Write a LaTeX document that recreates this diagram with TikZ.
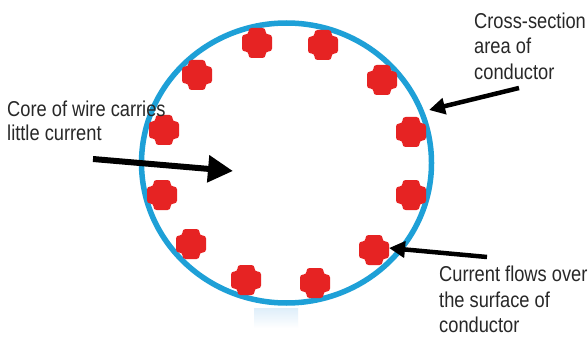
\documentclass[tikz,border=0pt]{standalone}
\usepackage{fontspec}
\setmainfont{Liberation Sans}[FakeStretch=0.85]
\usetikzlibrary{arrows.meta}
\definecolor{wireblue}{RGB}{30,160,215}
\definecolor{blobred}{RGB}{230,35,35}
\definecolor{txt}{RGB}{40,40,40}
\definecolor{haze}{RGB}{222,238,250}
\tikzset{
  blob/.pic={\fill[blobred, rounded corners=3pt] (-8.5,-15) -- (8.5,-15) -- (8.5,-8.5) -- (15,-8.5) -- (15,8.5) -- (8.5,8.5) -- (8.5,15) -- (-8.5,15) -- (-8.5,8.5) -- (-15,8.5) -- (-15,-8.5) -- (-8.5,-8.5) -- cycle;},
  lbl/.style={anchor=north west, inner sep=0pt, align=left, text=txt, font=\fontsize{21.5}{25.5}\selectfont},
  bigarrow/.style={draw=black, line width=6pt, -{Triangle[length=25pt,width=26pt]}},
  smallarrow/.style={draw=black, line width=4.5pt, -{Triangle[length=16pt,width=16pt]}}
}
\begin{document}
\begin{tikzpicture}[x=1pt,y=-1pt]
\useasboundingbox (0,0) rectangle (588,339);
\fill[white] (0,0) rectangle (588,339);
% faint blue smear below the circle
\shade[top color=haze, bottom color=white] (254,308) rectangle (298,328);
% conductor outline
\draw[wireblue, line width=5.5pt] (286.5,163) ellipse [x radius=145, y radius=140];
% current markers
\foreach \p in {(257,43),(323,45),(197,75),(382,80),(164,130),(411,132),(162,195),(411,195),(191,244),(374,250),(246,280),(315,283)}
  \pic at \p {blob};
% labels
\node[lbl, font=\fontsize{21.5}{23.5}\selectfont] (core) at (7,101) {Core of wire carries\\little current};
\node[lbl] (cross) at (474,12.5) {Cross-section\\area of\\conductor};
\node[lbl] (flow) at (439,266) {Current flows over\\the surface of\\conductor};
% arrows
\coordinate (c1) at (93,159);
\coordinate (c2) at (233,171);
\coordinate (x1) at (519,88);
\coordinate (x2) at (429,110);
\coordinate (f1) at (487,257);
\coordinate (f2) at (389,248);
\draw[bigarrow] (c1) -- (c2);
\draw[smallarrow] (x1) -- (x2);
\draw[smallarrow] (f1) -- (f2);
\end{tikzpicture}
\end{document}
